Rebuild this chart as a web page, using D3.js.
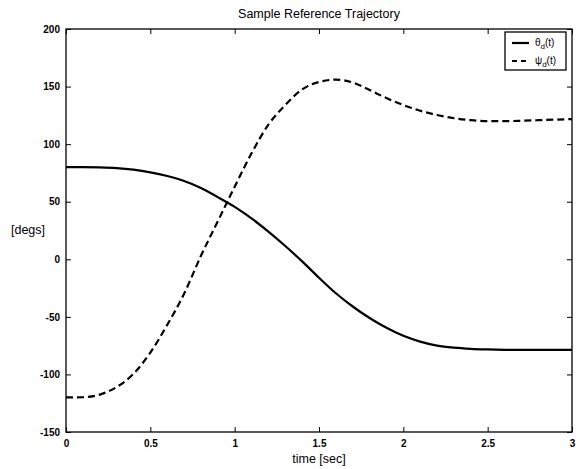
<!DOCTYPE html>
<html>
<head>
<meta charset="utf-8">
<script src="https://cdn.jsdelivr.net/npm/d3@7"></script>
<style>
  body { margin: 0; background: #fff; }
  text { font-family: "Liberation Sans", Arial, Helvetica, sans-serif; fill: #000; }
</style>
</head>
<body>
<svg width="576" height="469"></svg>
<script>
// time samples [sec]
const times = d3.range(0, 31).map((i) => i / 10);

// theta_d(t) [degs]
const theta = [
  80, 80, 79.8, 79.2, 77.8, 75.5, 72.3, 68, 62, 54,
  45.5, 35.5, 24, 11.5, -1.8, -16, -29.5, -41, -51, -59.5,
  -66.5, -71.5, -75, -76.8, -77.8, -78.3, -78.6, -78.7, -78.7, -78.7, -78.7
];

// psi_d(t) [degs]
const psi = [
  -120, -119.8, -117.5, -111, -99.5, -81, -57, -30, 3, 33,
  63, 92, 117, 134, 147.5, 154, 156, 153.5, 147, 140,
  134, 129, 125.3, 122.5, 120.8, 120, 120, 120.3, 120.8, 121.3, 121.8
];

const xTicks = [0, 0.5, 1, 1.5, 2, 2.5, 3];
const xTickLabels = ["0", "0.5", "1", "1.5", "2", "2.5", "3"];
const yTicks = [-150, -100, -50, 0, 50, 100, 150, 200];

const svg = d3.select("svg");
const width = +svg.attr("width");
const height = +svg.attr("height");

const margin = { top: 29, right: 4, bottom: 37, left: 66 };
const innerWidth = width - margin.left - margin.right;
const innerHeight = height - margin.top - margin.bottom;

const xScale = d3.scaleLinear().domain([0, 3]).range([0, innerWidth]);
const yScale = d3.scaleLinear().domain([-150, 200]).range([innerHeight, 0]);

const g = svg.append("g").attr("transform", `translate(${margin.left},${margin.top})`);

// axes, ticks pointing inward like matlab
const tickLen = 5;
const xAxis = d3.axisBottom(xScale).tickValues(xTicks)
  .tickFormat((d, i) => xTickLabels[i]).tickSizeInner(-tickLen).tickSizeOuter(0).tickPadding(8);
const yAxis = d3.axisLeft(yScale).tickValues(yTicks)
  .tickFormat((d) => d).tickSizeInner(-tickLen).tickSizeOuter(0).tickPadding(6);

const xAxisG = g.append("g").attr("transform", `translate(0,${innerHeight})`).call(xAxis);
const yAxisG = g.append("g").call(yAxis);
[xAxisG, yAxisG].forEach((a) => {
  a.select(".domain").remove();
  a.selectAll("line").attr("stroke", "#000");
  a.selectAll("text").style("font-size", "10px").style("font-weight", "bold").attr("fill", "#000");
});

// top and right ticks, no labels
g.append("g").call(d3.axisTop(xScale).tickValues(xTicks).tickSizeInner(-tickLen).tickSizeOuter(0))
  .call((a) => { a.select(".domain").remove(); a.selectAll("text").remove(); });
g.append("g").attr("transform", `translate(${innerWidth},0)`)
  .call(d3.axisRight(yScale).tickValues(yTicks).tickSizeInner(-tickLen).tickSizeOuter(0))
  .call((a) => { a.select(".domain").remove(); a.selectAll("text").remove(); });

// box
g.append("rect")
  .attr("width", innerWidth).attr("height", innerHeight)
  .attr("fill", "none").attr("stroke", "#000").attr("stroke-width", 1.3);

const lineGen = (vals) => d3.line()
  .x((d, i) => xScale(times[i]))
  .y((d) => yScale(d))
  .curve(d3.curveMonotoneX)(vals);

g.append("path").attr("d", lineGen(theta))
  .attr("fill", "none").attr("stroke", "#000").attr("stroke-width", 2.2);
g.append("path").attr("d", lineGen(psi))
  .attr("fill", "none").attr("stroke", "#000").attr("stroke-width", 2.2)
  .attr("stroke-dasharray", "7,4");

// title and labels
svg.append("text")
  .attr("x", margin.left + innerWidth / 2).attr("y", 18)
  .attr("text-anchor", "middle").style("font-size", "12.5px")
  .text("Sample Reference Trajectory");

svg.append("text")
  .attr("x", margin.left + innerWidth / 2).attr("y", 463)
  .attr("text-anchor", "middle").style("font-size", "12.5px")
  .text("time [sec]");

svg.append("text")
  .attr("x", 28).attr("y", 234)
  .attr("text-anchor", "middle").style("font-size", "12.5px")
  .text("[degs]");

// legend
const legend = svg.append("g").attr("transform", "translate(505,32)");
legend.append("rect").attr("width", 61).attr("height", 38)
  .attr("fill", "#fff").attr("stroke", "#000").attr("stroke-width", 1.3);

const legendItems = [
  { sym: "θ", dash: null, y: 11 },
  { sym: "ψ", dash: "5,4", y: 29 }
];
legendItems.forEach((it) => {
  legend.append("line")
    .attr("x1", 7).attr("x2", 24).attr("y1", it.y).attr("y2", it.y)
    .attr("stroke", "#000").attr("stroke-width", 2.2)
    .attr("stroke-dasharray", it.dash);
  const t = legend.append("text").attr("x", 30).attr("y", it.y + 3).style("font-size", "10px");
  t.append("tspan").text(it.sym);
  t.append("tspan").attr("dy", 3).style("font-size", "8px").text("d");
  t.append("tspan").attr("dy", -3).text("(t)");
});
</script>
</body>
</html>
